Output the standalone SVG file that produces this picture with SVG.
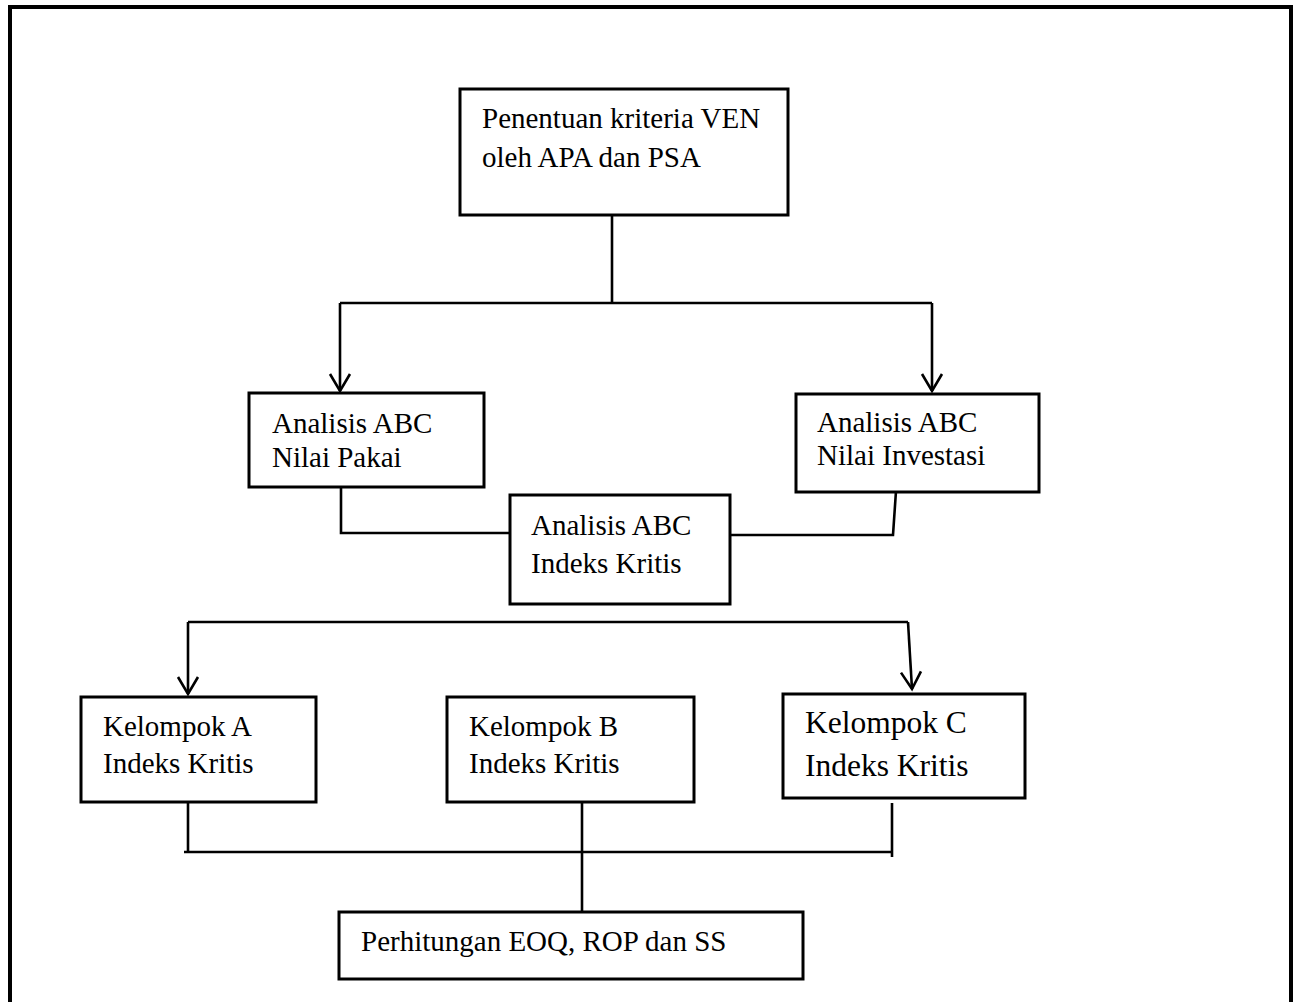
<svg xmlns="http://www.w3.org/2000/svg" width="1300" height="1002" viewBox="0 0 1300 1002">
<style>
.box{fill:#fff;stroke:#000;stroke-width:3}
.ln{fill:none;stroke:#000;stroke-width:2.6}
.t{font-family:"Liberation Serif","Times New Roman",serif;font-size:29px;fill:#000}
.big{font-size:31.5px}
</style>
<defs>
<marker id="arr" markerUnits="userSpaceOnUse" markerWidth="30" markerHeight="30" viewBox="-20 -15 25 30" refX="0" refY="0" orient="auto" overflow="visible">
<path d="M-17,-10 L0,0 L-17,10" fill="none" stroke="#000" stroke-width="2.6"/>
</marker>
</defs>
<rect width="1300" height="1002" fill="#fff"/>
<path d="M10,1002 V7 H1291 V1002" fill="none" stroke="#000" stroke-width="4"/>
<g id="connectors">
<path class="ln" d="M612,215 V303"/>
<path class="ln" d="M340,303 H932"/>
<path class="ln" d="M340,303 V391" marker-end="url(#arr)"/>
<path class="ln" d="M932,303 V391" marker-end="url(#arr)"/>
<path class="ln" d="M341,487 V533 H510"/>
<path class="ln" d="M896,491 L893,535 H730"/>
<path class="ln" d="M188,622 H908"/>
<path class="ln" d="M188,622 V694" marker-end="url(#arr)"/>
<path class="ln" d="M908,622 L912,689" marker-end="url(#arr)"/>
<path class="ln" d="M188,800 V852"/>
<path class="ln" d="M184,852 H892"/>
<path class="ln" d="M892,803 V857"/>
<path class="ln" d="M582,802 V912"/>
</g>
<g id="n-ven">
<rect class="box" x="460" y="89" width="328" height="126"/>
<text class="t" x="482" y="128">Penentuan kriteria VEN</text>
<text class="t" x="482" y="167">oleh APA dan PSA</text>
</g>
<g id="n-pakai">
<rect class="box" x="249" y="393" width="235" height="94"/>
<text class="t" x="272" y="433">Analisis ABC</text>
<text class="t" x="272" y="467">Nilai Pakai</text>
</g>
<g id="n-investasi">
<rect class="box" x="796" y="394" width="243" height="98"/>
<text class="t" x="817" y="432">Analisis ABC</text>
<text class="t" x="817" y="465">Nilai Investasi</text>
</g>
<g id="n-indeks">
<rect class="box" x="510" y="495" width="220" height="109"/>
<text class="t" x="531" y="535">Analisis ABC</text>
<text class="t" x="531" y="573">Indeks Kritis</text>
</g>
<g id="n-a">
<rect class="box" x="81" y="697" width="235" height="105"/>
<text class="t" x="103" y="736">Kelompok A</text>
<text class="t" x="103" y="773">Indeks Kritis</text>
</g>
<g id="n-b">
<rect class="box" x="447" y="697" width="247" height="105"/>
<text class="t" x="469" y="736">Kelompok B</text>
<text class="t" x="469" y="773">Indeks Kritis</text>
</g>
<g id="n-c">
<rect class="box" x="783" y="694" width="242" height="104"/>
<text class="t big" x="805" y="733">Kelompok C</text>
<text class="t big" x="805" y="776">Indeks Kritis</text>
</g>
<g id="n-eoq">
<rect class="box" x="339" y="912" width="464" height="67"/>
<text class="t" x="361" y="951">Perhitungan EOQ, ROP dan SS</text>
</g>
</svg>
